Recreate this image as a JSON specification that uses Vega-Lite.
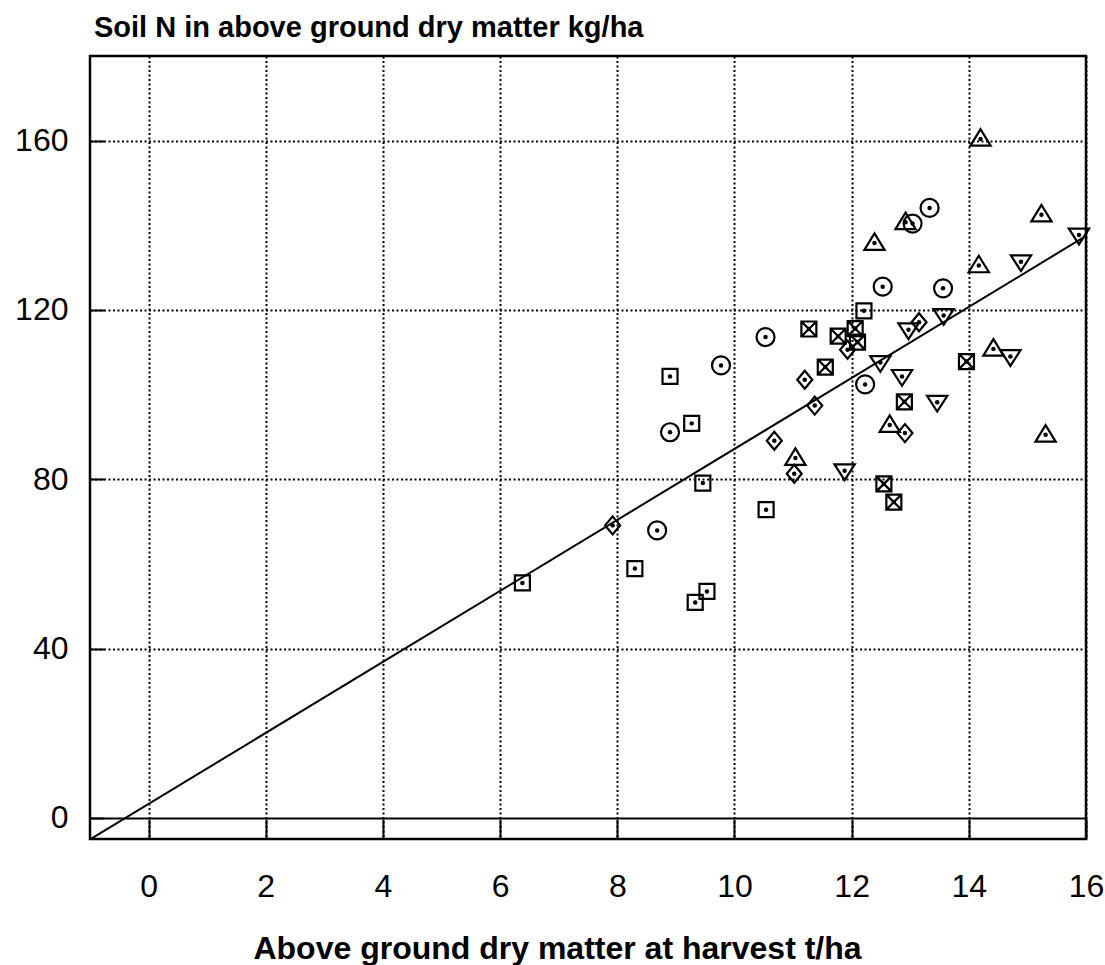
{
  "$schema": "https://vega.github.io/schema/vega-lite/v6.json",
  "width": 996,
  "height": 783,
  "autosize": {"type": "none"},
  "padding": {"left": 90, "top": 56, "right": 19, "bottom": 126},
  "background": "white",
  "config": {
    "view": {"stroke": "black", "strokeWidth": 2.5},
    "font": "Liberation Sans"
  },
  "title": {
    "text": "Soil N in above ground dry matter kg/ha",
    "anchor": "start",
    "frame": "group",
    "font": "Liberation Sans",
    "fontSize": 29,
    "fontWeight": "bold",
    "color": "black",
    "baseline": "alphabetic",
    "offset": 19,
    "dx": 4,
    "dy": 29
  },
  "datasets": {
    "pts": [
      {"x": 12.21, "y": 119.8, "g": "sq"},
      {"x": 8.90, "y": 104.3, "g": "sq"},
      {"x": 9.27, "y": 93.2, "g": "sq"},
      {"x": 9.46, "y": 79.1, "g": "sq"},
      {"x": 10.54, "y": 72.8, "g": "sq"},
      {"x": 6.38, "y": 55.5, "g": "sq"},
      {"x": 8.30, "y": 58.9, "g": "sq"},
      {"x": 9.53, "y": 53.5, "g": "sq"},
      {"x": 9.33, "y": 50.9, "g": "sq"},
      {"x": 11.27, "y": 115.5, "g": "boxx"},
      {"x": 11.77, "y": 113.8, "g": "boxx"},
      {"x": 12.06, "y": 115.6, "g": "boxx"},
      {"x": 12.10, "y": 112.4, "g": "boxx"},
      {"x": 11.55, "y": 106.5, "g": "boxx"},
      {"x": 13.96, "y": 107.8, "g": "boxx"},
      {"x": 12.90, "y": 98.3, "g": "boxx"},
      {"x": 12.55, "y": 78.9, "g": "boxx"},
      {"x": 12.72, "y": 74.6, "g": "boxx"},
      {"x": 13.33, "y": 144.1, "g": "circ"},
      {"x": 13.04, "y": 140.4, "g": "circ"},
      {"x": 12.53, "y": 125.5, "g": "circ"},
      {"x": 13.56, "y": 125.1, "g": "circ"},
      {"x": 10.53, "y": 113.6, "g": "circ"},
      {"x": 9.77, "y": 106.9, "g": "circ"},
      {"x": 12.23, "y": 102.4, "g": "circ"},
      {"x": 8.90, "y": 91.1, "g": "circ"},
      {"x": 8.68, "y": 67.9, "g": "circ"},
      {"x": 11.93, "y": 110.6, "g": "diam"},
      {"x": 13.15, "y": 117.1, "g": "diam"},
      {"x": 11.20, "y": 103.5, "g": "diam"},
      {"x": 11.37, "y": 97.4, "g": "diam"},
      {"x": 10.68, "y": 89.1, "g": "diam"},
      {"x": 12.91, "y": 90.9, "g": "diam"},
      {"x": 11.02, "y": 81.3, "g": "diam"},
      {"x": 7.92, "y": 69.1, "g": "diam"},
      {"x": 14.20, "y": 160.4, "g": "tup"},
      {"x": 12.92, "y": 140.7, "g": "tup"},
      {"x": 15.24, "y": 142.5, "g": "tup"},
      {"x": 12.39, "y": 135.8, "g": "tup"},
      {"x": 14.17, "y": 130.5, "g": "tup"},
      {"x": 14.42, "y": 110.8, "g": "tup"},
      {"x": 12.65, "y": 92.8, "g": "tup"},
      {"x": 15.31, "y": 90.5, "g": "tup"},
      {"x": 11.04, "y": 85.0, "g": "tup"},
      {"x": 15.88, "y": 137.7, "g": "tdown"},
      {"x": 14.89, "y": 131.4, "g": "tdown"},
      {"x": 13.57, "y": 118.7, "g": "tdown"},
      {"x": 12.97, "y": 115.3, "g": "tdown"},
      {"x": 12.49, "y": 107.6, "g": "tdown"},
      {"x": 12.86, "y": 104.3, "g": "tdown"},
      {"x": 13.46, "y": 98.2, "g": "tdown"},
      {"x": 14.71, "y": 109.0, "g": "tdown"},
      {"x": 11.88, "y": 82.0, "g": "tdown"}
    ],
    "fit": [
      {"x": -1, "y": -5.1},
      {"x": 16, "y": 137.5}
    ]
  },
  "encoding": {
    "x": {
      "field": "x",
      "type": "quantitative",
      "scale": {"domain": [-1, 16], "nice": false, "zero": false},
      "axis": {
        "values": [0, 2, 4, 6, 8, 10, 12, 14, 16],
        "grid": true,
        "gridColor": "black",
        "gridDash": [2, 2.5],
        "gridWidth": 2,
        "gridOpacity": 1,
        "domain": false,
        "ticks": true,
        "tickSize": -20,
        "tickWidth": 2,
        "tickColor": "black",
        "labelPadding": 52,
        "labelFont": "Liberation Sans",
        "labelFontSize": 32,
        "labelColor": "black",
        "labelFlush": false,
        "labelOverlap": false,
        "title": "Above ground dry matter at harvest t/ha",
        "titleFont": "Liberation Sans",
        "titleFontSize": 32,
        "titleFontWeight": "bold",
        "titleColor": "black",
        "titleX": 467,
        "titleY": 119,
        "titleAnchor": null,
        "titleAlign": "center",
        "titleBaseline": "alphabetic"
      }
    },
    "y": {
      "field": "y",
      "type": "quantitative",
      "scale": {"domain": [-5, 180], "nice": false, "zero": false},
      "axis": {
        "values": [0, 40, 80, 120, 160],
        "grid": true,
        "gridColor": "black",
        "gridDash": {"condition": {"test": "datum.value === 0", "value": []}, "value": [2, 2.5]},
        "gridWidth": 2,
        "gridOpacity": 1,
        "domain": false,
        "ticks": true,
        "tickSize": -14,
        "tickWidth": 2,
        "tickColor": "black",
        "labelPadding": 36,
        "labelFont": "Liberation Sans",
        "labelFontSize": 32,
        "labelColor": "black",
        "labelFlush": false,
        "labelOverlap": false,
        "title": null
      }
    }
  },
  "layer": [
    {
      "data": {"name": "fit"},
      "mark": {"type": "line", "color": "black", "strokeWidth": 2, "clip": true}
    },
    {
      "data": {"name": "pts"},
      "mark": {"type": "point", "filled": false, "color": "black", "strokeWidth": 2.2, "opacity": 1, "size": 225},
      "encoding": {
        "shape": {
          "field": "g",
          "type": "nominal",
          "scale": {
            "domain": ["sq", "boxx", "circ", "diam", "tup", "tdown"],
            "range": [
              "M-1,-1L1,-1L1,1L-1,1Z",
              "M-1,-1L1,-1L1,1L-1,1Z M-1,-1L1,1 M1,-1L-1,1",
              "M-1.2,0A1.2,1.2,0,1,0,1.2,0A1.2,1.2,0,1,0,-1.2,0Z",
              "M0,-1.2L1,0L0,1.2L-1,0Z",
              "M0,-1.3L1.35,0.9L-1.35,0.9Z",
              "M-1.35,-0.85L1.35,-0.85L0,1.25Z"
            ]
          },
          "legend": null
        }
      }
    },
    {
      "data": {"name": "pts"},
      "mark": {"type": "point", "filled": true, "shape": "circle", "color": "black", "size": 20, "opacity": 1}
    }
  ]
}
